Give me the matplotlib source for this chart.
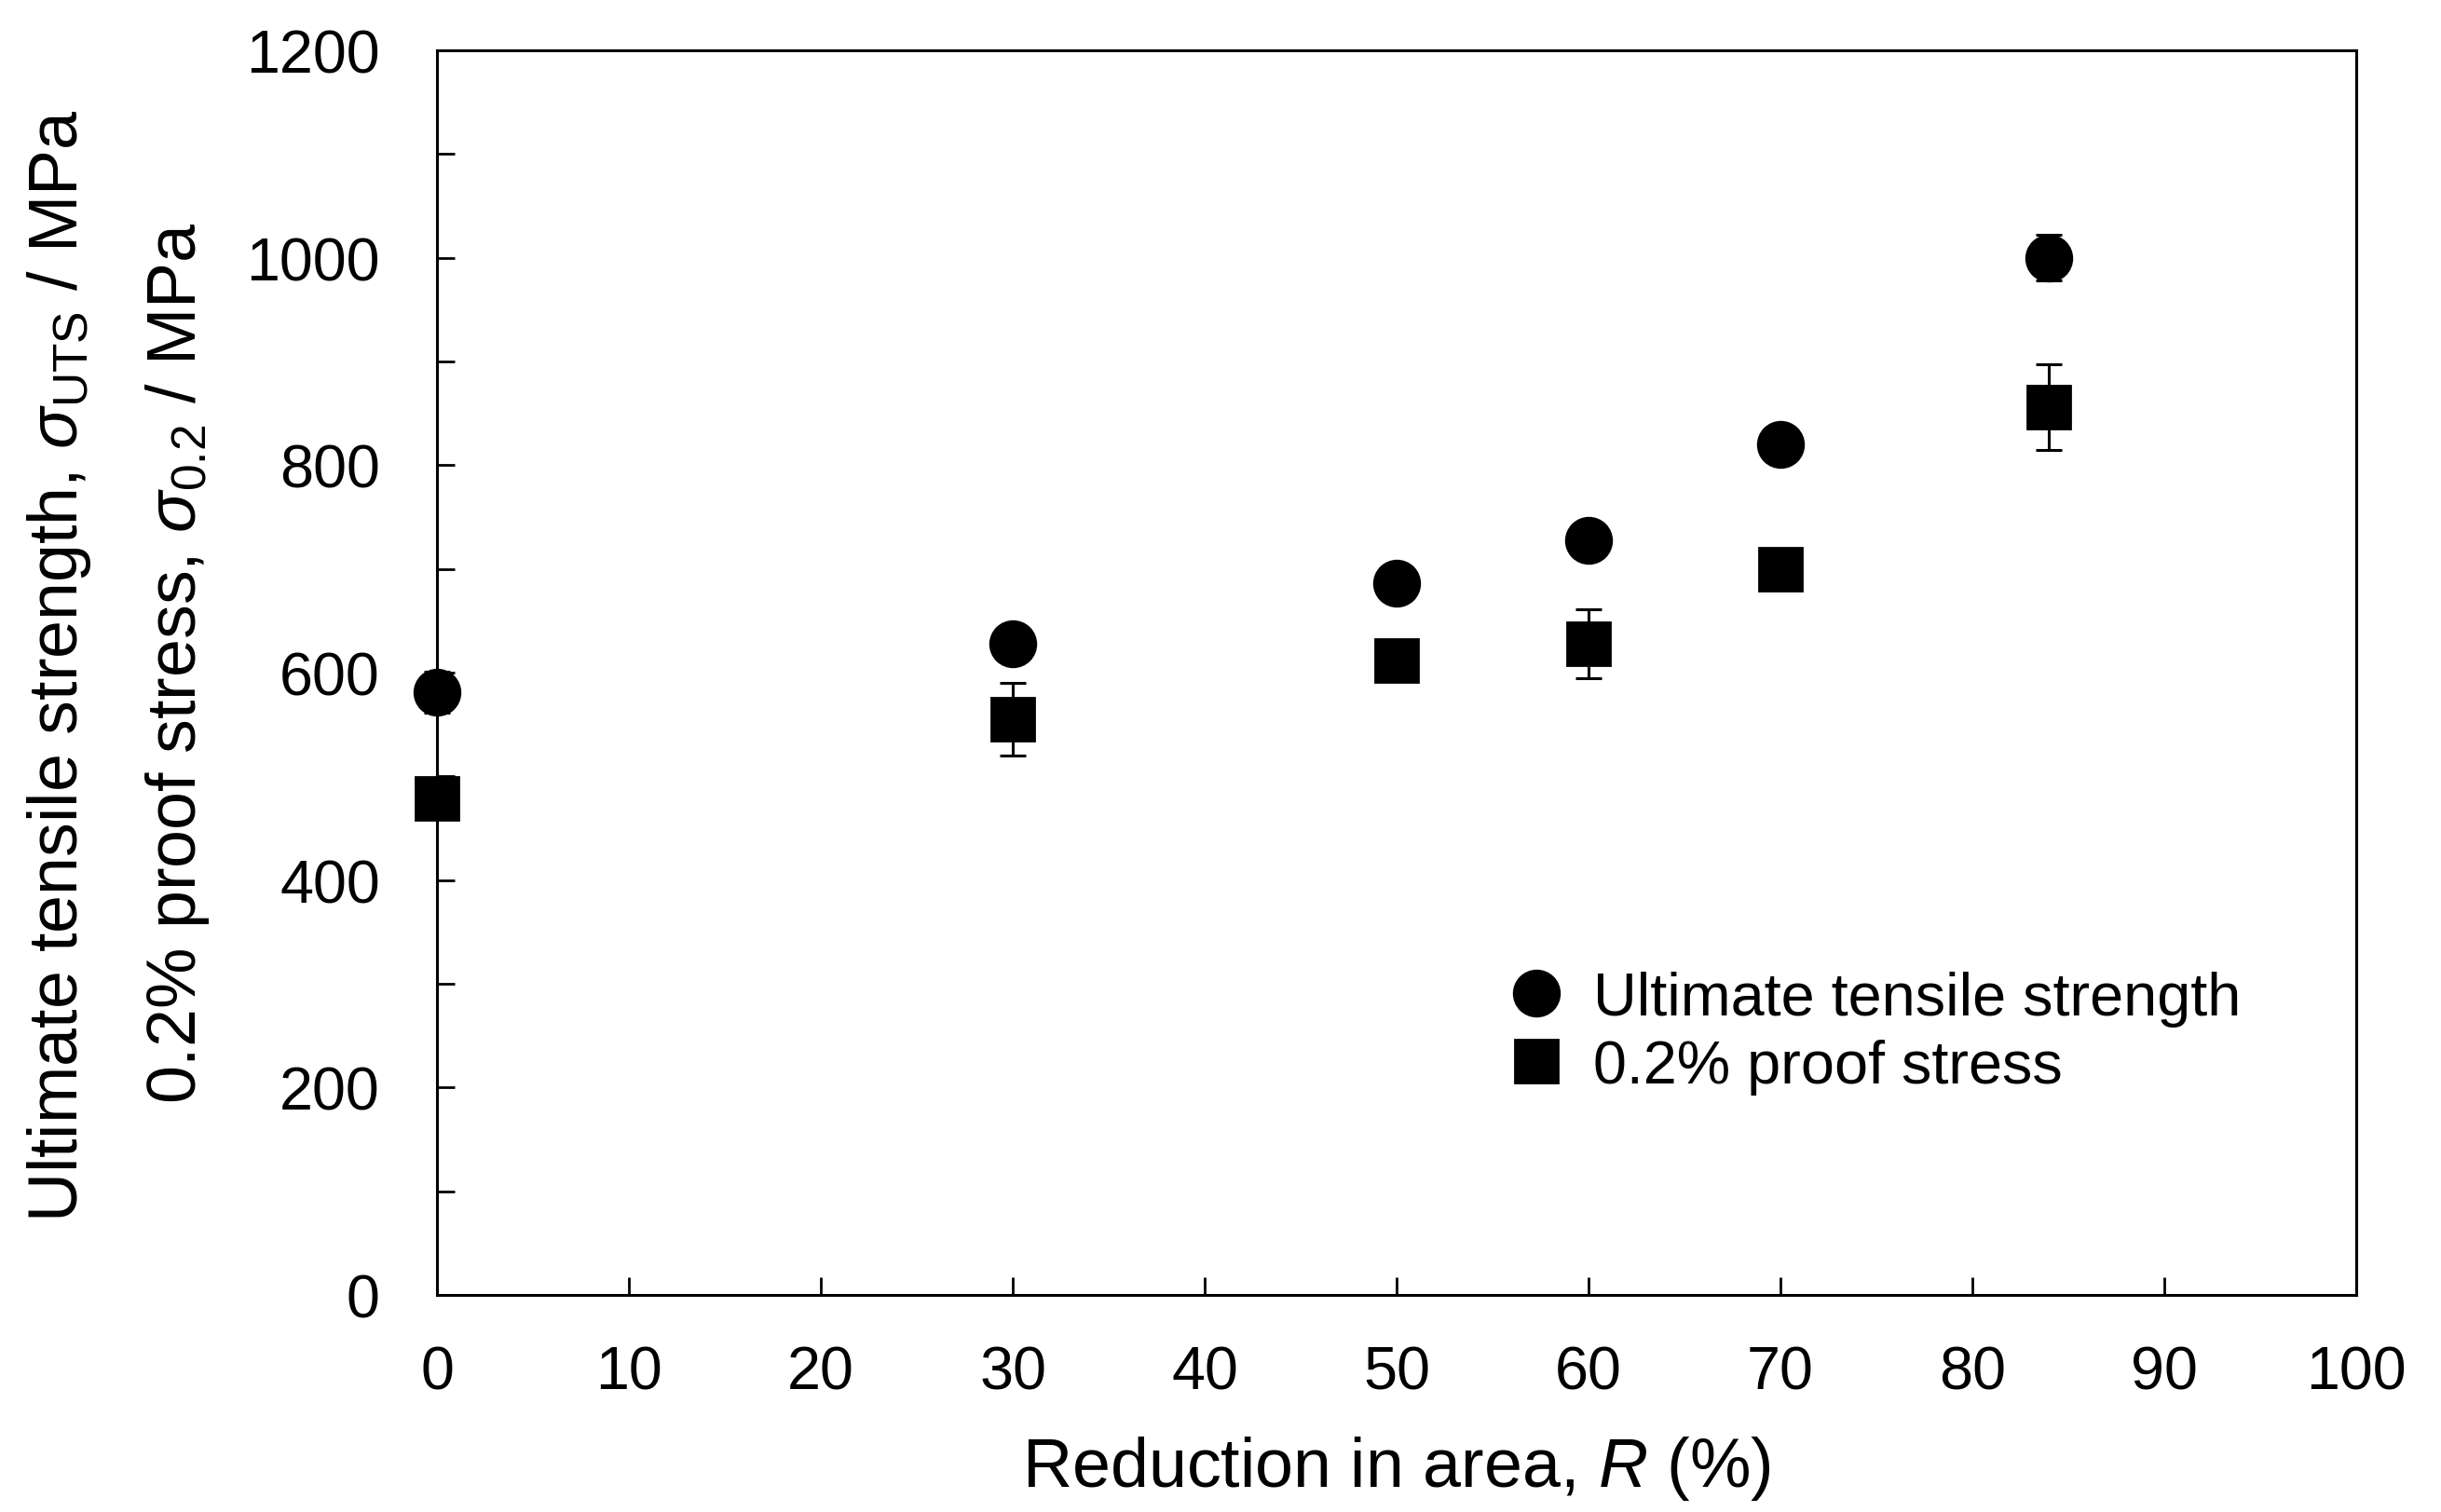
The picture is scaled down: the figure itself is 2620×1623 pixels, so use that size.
import matplotlib
matplotlib.use("Agg")
import matplotlib.pyplot as plt
from matplotlib.lines import Line2D

plt.rcParams["font.family"] = ["Liberation Sans", "DejaVu Sans"]
plt.rcParams["mathtext.fontset"] = "custom"
plt.rcParams["mathtext.rm"] = "Liberation Sans"
plt.rcParams["mathtext.it"] = "Liberation Sans:italic"

# data
reduction = [0, 30, 50, 60, 70, 84]
uts = [581, 628, 686, 728, 820, 1000]
uts_err = [20, 0, 0, 0, 0, 22]
proof = [479, 555, 612, 628, 700, 856]
proof_err = [0, 35, 0, 33, 0, 41]

x_ticks = list(range(0, 101, 10))
y_ticks = list(range(0, 1201, 200))
y_minor = list(range(100, 1200, 200))

fig = plt.figure(figsize=(13.1, 8.12), dpi=200)
ax = fig.add_axes([0.179, 0.1435, 0.7863, 0.8226])

ax.errorbar(reduction, uts, yerr=uts_err, fmt="o", color="black", ms=17.5,
            capsize=5.2, elinewidth=1.1, capthick=1.1, clip_on=False, zorder=3)
ax.errorbar(reduction, proof, yerr=proof_err, fmt="s", color="black", ms=16.5,
            capsize=5.2, elinewidth=1.1, capthick=1.1, clip_on=False, zorder=3)

ax.set_xlim(0, 100)
ax.set_ylim(0, 1200)
ax.set_xticks(x_ticks)
ax.set_yticks(y_ticks)
ax.set_yticks(y_minor, minor=True)
ax.tick_params(axis="both", which="both", direction="in", length=7, width=1.0,
               labelsize=23.3)
ax.tick_params(axis="x", pad=19.4)
ax.tick_params(axis="y", pad=22)
for sp in ax.spines.values():
    sp.set_linewidth(1.1)

ax.set_xlabel("Reduction in area, $\\mathit{R}$ (%)", fontsize=26.5, va="top")
ax.xaxis.set_label_coords(0.5, -0.1115)

fig.text(0.0317, 0.5597,
         "Ultimate tensile strength, $\\mathit{\\sigma}_{\\mathrm{UTS}}$ / MPa",
         rotation=90, rotation_mode="anchor", ha="center", va="baseline",
         fontsize=26.5)
fig.text(0.0802, 0.5616, "0.2% proof stress, $\\mathit{\\sigma}_{0.2}$ / MPa",
         rotation=90, rotation_mode="anchor", ha="center", va="baseline",
         fontsize=26.5)

handles = [
    Line2D([], [], marker="o", ls="none", color="black", ms=17.5),
    Line2D([], [], marker="s", ls="none", color="black", ms=16.5),
]
labels = ["Ultimate tensile strength", "0.2% proof stress"]
ax.legend(handles, labels, loc="center left", bbox_to_anchor=(0.557, 0.211),
          frameon=False, fontsize=23.3, handlelength=1.0, handletextpad=0.45,
          labelspacing=0.2, borderpad=0, borderaxespad=0)

fig.savefig("out.png", dpi=200)
